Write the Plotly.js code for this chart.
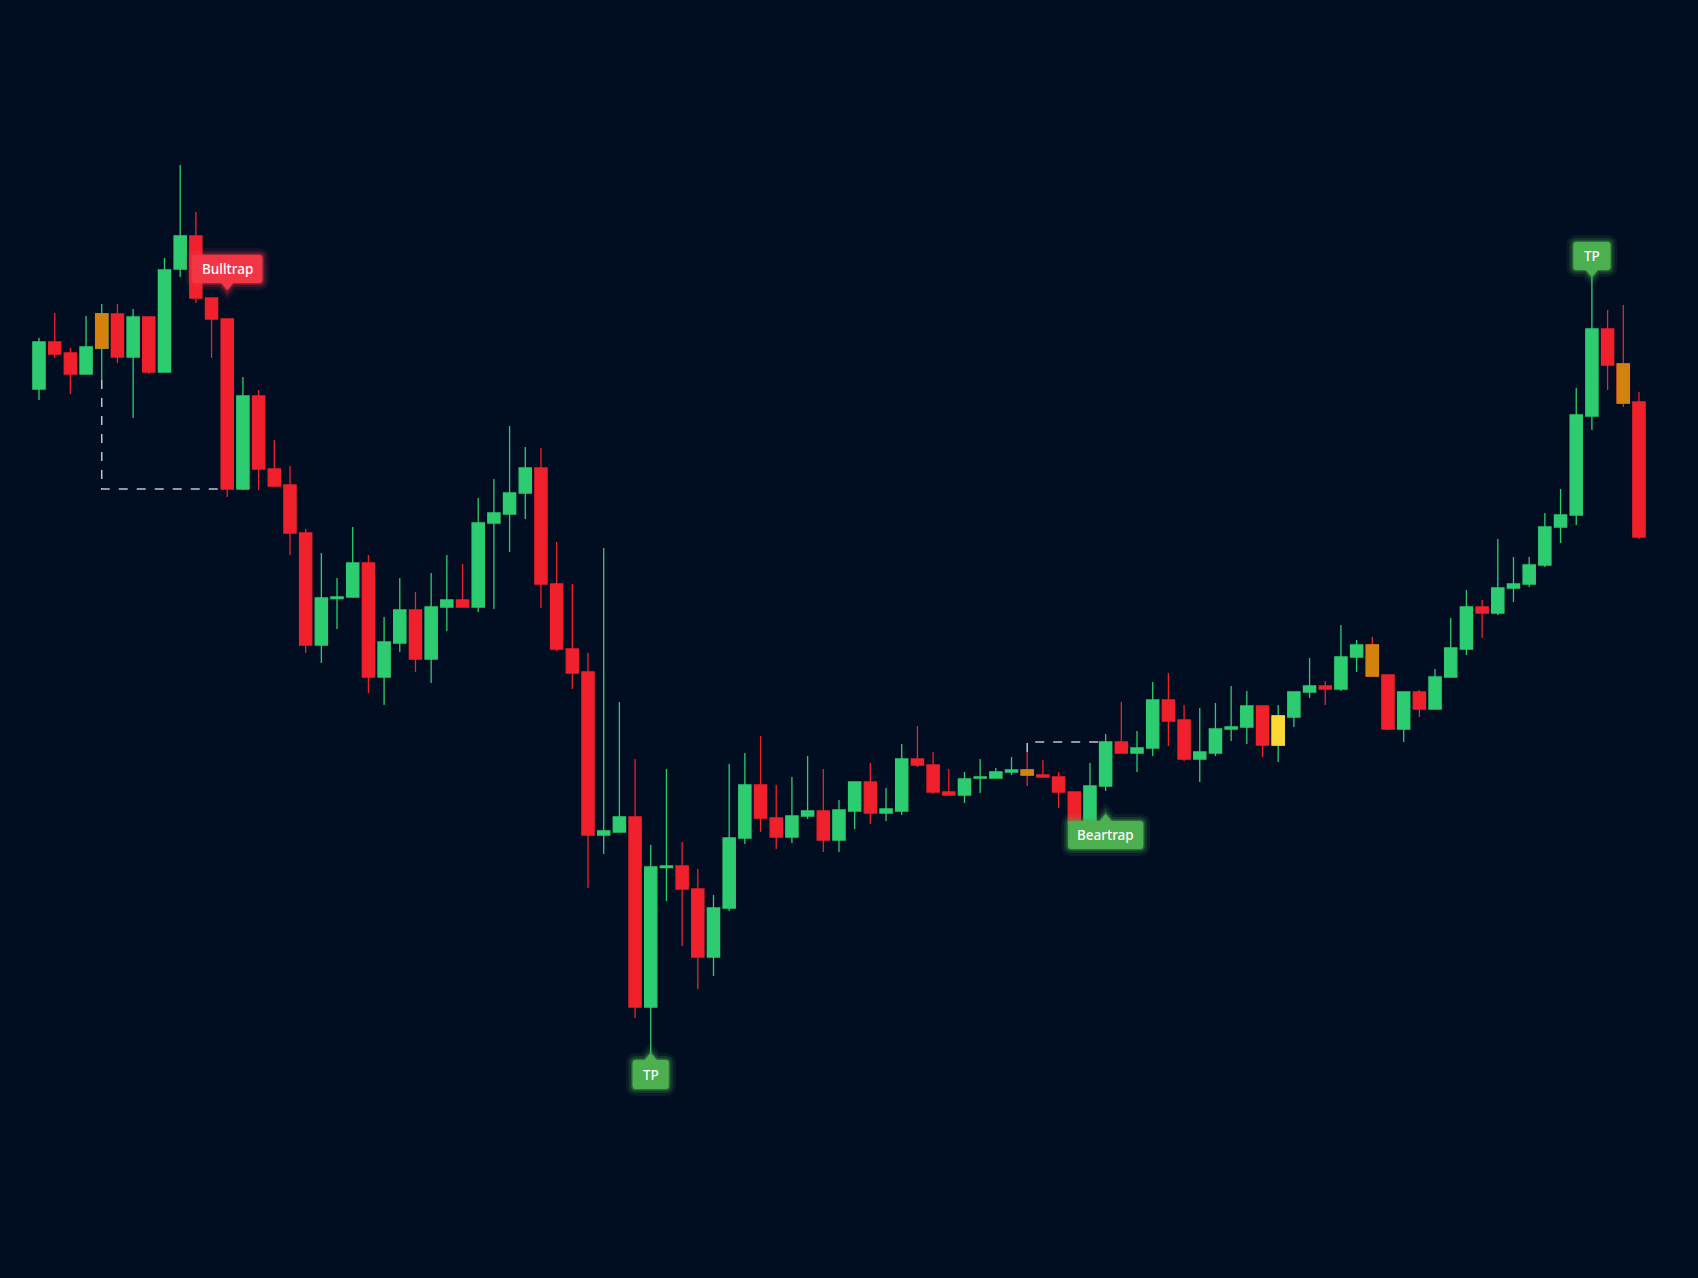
<!DOCTYPE html>
<html>
<head>
<meta charset="utf-8">
<script src="https://cdn.plot.ly/plotly-3.0.1.min.js"></script>
<style>
  html, body { margin: 0; padding: 0; background: #010d21; overflow: hidden; }
  #chart { width: 1698px; height: 1278px; }
</style>
</head>
<body>
<div id="chart"></div>
<script>
// ---- data (prices) ----
const openP = [81.1,85.8,84.7,82.6,85.2,88.6,84.3,88.3,82.8,93.1,
  96.4,90.2,88.1,71.1,80.4,73.1,71.5,66.7,55.5,60.15,
  60.3,63.7,52.3,55.7,59.0,54.1,59.3,60.0,59.3,67.7,
  68.6,70.7,73.2,61.6,55.1,52.8,36.5,36.8,38.3,19.3,
  33.25,33.4,31.1,24.3,29.2,36.2,41.5,38.2,36.3,38.4,
  38.9,36.0,38.9,41.8,38.7,38.9,44.1,43.5,40.8,40.5,
  42.2,42.2,42.8,43.0,42.5,42.3,40.8,37.7,41.4,45.8,
  44.7,45.2,50.0,48.0,44.1,44.7,47.1,47.3,49.4,45.5,
  48.3,50.8,51.4,51.1,54.3,55.5,52.5,47.1,50.8,49.1,
  52.3,55.1,59.3,58.7,61.2,61.6,63.5,67.3,68.5,78.4,
  87.1,83.6,79.8];
const highP = [86.2,88.7,85.2,88.4,89.6,89.6,89.1,88.3,94.2,103.5,
  98.8,90.2,88.1,82.3,81.0,76.0,73.4,67.1,64.7,62.2,
  67.3,64.5,58.3,62.2,60.8,62.7,64.5,63.6,70.2,72.1,
  77.4,75.3,75.2,65.8,61.6,54.7,65.2,49.8,44.1,35.5,
  43.1,35.8,33.1,30.5,43.6,44.7,46.4,41.5,42.3,44.4,
  43.1,40.0,41.8,43.7,41.2,45.6,47.4,44.8,43.1,42.8,
  44.1,43.2,44.3,44.8,44.0,42.8,40.8,43.7,46.6,49.8,
  46.9,51.8,52.7,49.5,49.2,49.7,51.4,50.9,49.4,49.5,
  50.8,54.2,51.9,57.5,56.0,56.3,52.5,50.8,51.0,53.1,
  58.2,61.0,60.0,66.1,64.3,64.3,68.7,71.1,81.2,92.3,
  89.0,89.5,80.8];
const lowP = [80.0,84.2,80.6,82.6,82.0,83.7,78.2,82.6,82.8,92.3,
  89.7,84.2,70.3,71.0,71.0,71.3,64.5,54.7,53.7,57.1,
  60.3,50.7,49.5,54.8,52.8,51.7,56.9,59.3,58.8,59.1,
  64.8,68.1,59.2,54.9,51.1,31.2,34.6,36.8,18.2,14.7,
  29.9,25.4,21.1,22.4,28.9,35.6,36.8,35.1,35.7,38.1,
  34.8,34.8,37.1,37.6,37.9,38.5,43.3,40.6,40.5,39.7,
  40.7,42.2,42.5,41.4,42.3,39.2,37.5,37.7,40.9,44.7,
  42.8,44.4,45.4,43.9,41.8,44.4,45.9,45.6,44.3,43.8,
  47.3,50.2,49.5,50.9,52.8,52.3,47.0,45.8,48.3,49.1,
  52.3,54.5,56.2,58.5,59.8,61.3,63.3,65.7,67.5,77.0,
  81.0,79.3,66.1];
const closeP = [85.8,84.6,82.6,85.3,88.6,84.3,88.3,82.8,93.0,96.4,
  90.2,88.1,71.1,80.4,73.1,71.4,66.7,55.5,60.2,60.3,
  63.7,52.3,55.8,59.0,54.1,59.3,60.0,59.3,67.7,68.7,
  70.7,73.2,61.6,55.1,52.7,36.5,36.9,38.3,19.3,33.3,
  33.4,31.1,24.3,29.2,36.2,41.5,38.2,36.3,38.4,38.9,
  36.0,39.0,41.8,38.7,39.1,44.1,43.5,40.8,40.5,42.1,
  42.3,42.8,43.0,42.5,42.3,40.8,37.7,41.4,45.8,44.7,
  45.2,50.0,47.9,44.1,44.8,47.1,47.3,49.4,45.5,48.4,
  50.8,51.4,51.1,54.3,55.5,52.4,47.1,50.8,49.1,52.3,
  55.2,59.3,58.7,61.2,61.6,63.5,67.3,68.5,78.5,87.1,
  83.5,79.7,66.3];
const orangeBars = [4, 63, 85, 101];
const yellowBars = [79];
const labelText = ['Bulltrap', 'TP', 'Beartrap', 'TP'];
const labelBar  = [12, 39, 68, 99];
const labelSide = ['above', 'below', 'below', 'above'];
const trapFrom = [4, 63];
const trapTo   = [12, 68];

// ---- styles ----
const BG = '#010d21';
const UP = '#2ecc71', DOWN = '#f0202c', ORANGE = '#d4820f', YELLOW = '#fdd835';
const labelStyle = [
  {color: '#f23645', rgb: '242,54,69', w: 70, h: 28, gap: 29},
  {color: '#4caf50', rgb: '76,175,80', w: 36, h: 29, gap: 0},
  {color: '#4caf50', rgb: '76,175,80', w: 75, h: 28, gap: 23},
  {color: '#4caf50', rgb: '76,175,80', w: 37, h: 28, gap: 0}
];

const n = openP.length;
const idx = Array.from({length: n}, (_, i) => i);

function sub(arr, ids) { return ids.map(i => arr[i]); }

const mainTrace = {
  type: 'candlestick', x: idx, open: openP, high: highP, low: lowP, close: closeP,
  increasing: {line: {color: UP, width: 1.3}, fillcolor: UP},
  decreasing: {line: {color: DOWN, width: 1.3}, fillcolor: DOWN},
  whiskerwidth: 0, hoverinfo: 'skip', showlegend: false
};
function bodyTrace(ids, col) {
  const o = sub(openP, ids), c = sub(closeP, ids);
  return {
    type: 'candlestick', x: ids, open: o, close: c,
    high: o.map((v, k) => Math.max(v, c[k])), low: o.map((v, k) => Math.min(v, c[k])),
    increasing: {line: {color: col, width: 1.3}, fillcolor: col},
    decreasing: {line: {color: col, width: 1.3}, fillcolor: col},
    whiskerwidth: 0, hoverinfo: 'skip', showlegend: false
  };
}

const shapes = [];
const annotations = [];
const halfBody = 0.40;

// dashed trap lines
trapFrom.forEach((f, k) => {
  const t = trapTo[k];
  const level = closeP[t];
  const startY = level < lowP[f] ? lowP[f] : highP[f];
  shapes.push({
    type: 'path', xref: 'x', yref: 'y', layer: 'above',
    path: `M ${f},${startY} L ${f},${level} L ${t - halfBody},${level}`,
    line: {color: 'rgba(225,230,240,0.85)', width: 1.5, dash: 'dash'}
  });
});

function labelPath(w, h, p, dir, r, off) {
  // dir = 1 -> label above the anchor (pointer down), -1 -> below (pointer up)
  const s = dir;
  const hw = w / 2, pw = 6;
  const y = v => (s * v + off).toFixed(2);
  const y0 = y(p), y1 = y(p + h), yr0 = y(p + r), yr1 = y(p + h - r), t = y(0);
  return `M 0,${t} L ${-pw},${y0} L ${-hw + r},${y0} Q ${-hw},${y0} ${-hw},${yr0} ` +
         `L ${-hw},${yr1} Q ${-hw},${y1} ${-hw + r},${y1} L ${hw - r},${y1} Q ${hw},${y1} ${hw},${yr1} ` +
         `L ${hw},${yr0} Q ${hw},${y0} ${hw - r},${y0} L ${pw},${y0} Z`;
}

labelText.forEach((txt, k) => {
  const st = labelStyle[k];
  const bar = labelBar[k];
  const above = labelSide[k] === 'above';
  const anchorY = above ? highP[bar] : lowP[bar];
  const dir = above ? 1 : -1;
  const p = 7;
  const off = dir * st.gap;
  const path = labelPath(st.w, st.h, p, dir, 3, off);
  const base = {type: 'path', xref: 'x', yref: 'y', xsizemode: 'pixel', ysizemode: 'pixel',
    xanchor: bar, yanchor: anchorY, path: path, layer: 'above'};
  shapes.push(Object.assign({}, base, {fillcolor: 'rgba(0,0,0,0)', line: {color: `rgba(${st.rgb},0.10)`, width: 14}}));
  shapes.push(Object.assign({}, base, {fillcolor: 'rgba(0,0,0,0)', line: {color: `rgba(${st.rgb},0.18)`, width: 8}}));
  shapes.push(Object.assign({}, base, {fillcolor: 'rgba(0,0,0,0)', line: {color: `rgba(${st.rgb},0.30)`, width: 3.5}}));
  shapes.push(Object.assign({}, base, {fillcolor: st.color, line: {color: st.color, width: 0.5}}));
  annotations.push({
    x: bar, y: anchorY, xref: 'x', yref: 'y', text: txt, showarrow: false,
    yshift: off + dir * (p + st.h / 2),
    font: {family: '"Noto Sans", "Open Sans", sans-serif', size: 13.5, color: '#ffffff', weight: 500},
    xanchor: 'center', yanchor: 'middle'
  });
});

// pixel mapping: bar i centre at 39 + 15.686*i px, price P at y = 1200 - 10*P px
const W = 1698, H = 1278, x0px = 39, step = 15.686;
const xRange = [-x0px / step, (W - x0px) / step];
const yRange = [(1200 - H) / 10, 1200 / 10];

const layout = {
  width: W, height: H,
  margin: {l: 0, r: 0, t: 0, b: 0, pad: 0},
  paper_bgcolor: BG, plot_bgcolor: BG,
  showlegend: false,
  boxgap: 0.22, boxgroupgap: 0,
  xaxis: {range: xRange, visible: false, showgrid: false, zeroline: false,
          rangeslider: {visible: false}, fixedrange: true},
  yaxis: {range: yRange, visible: false, showgrid: false, zeroline: false, fixedrange: true},
  shapes: shapes, annotations: annotations,
  hovermode: false
};

const traces = [mainTrace, bodyTrace(orangeBars, ORANGE), bodyTrace(yellowBars, YELLOW)];
Plotly.newPlot('chart', traces, layout, {displayModeBar: false, staticPlot: true});
</script>
</body>
</html>
